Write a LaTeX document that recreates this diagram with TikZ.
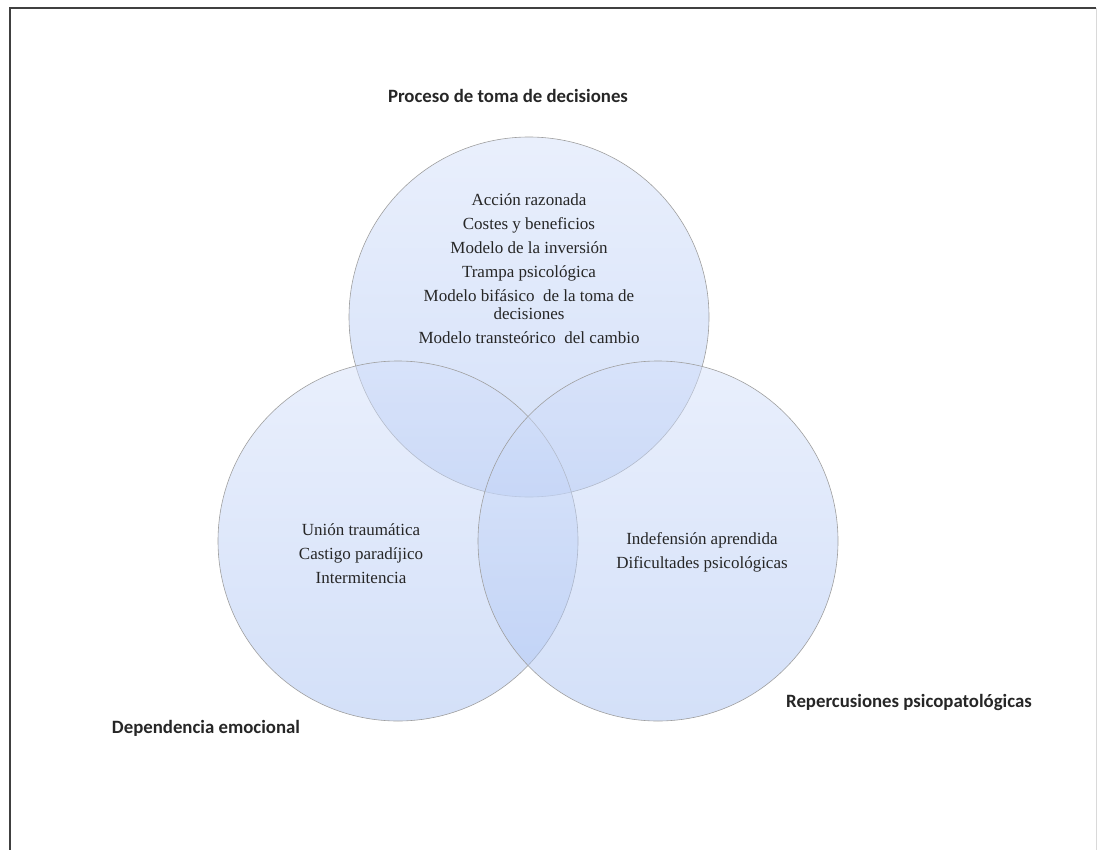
\documentclass[tikz,border=0pt]{standalone}
\usepackage{fontspec}
\setmainfont{Liberation Serif}
\newfontfamily\lblfont{Carlito}
\begin{document}
\begin{tikzpicture}[x=1pt,y=-1pt,
  venn/.style={circle, inner sep=0pt, minimum size=360pt,
    draw=gray!75, line width=0.6pt,
    top color=circtop, bottom color=circbot, fill opacity=0.5},
  setlabel/.style={font=\lblfont\bfseries\fontsize{18.8}{22}\selectfont, text=black!85},
  items/.style={align=center, font=\fontsize{17}{24}\selectfont, text=black!85}]
\definecolor{circtop}{RGB}{212,224,250}
\definecolor{circbot}{RGB}{168,193,242}
\useasboundingbox (0,0) rectangle (1099,850);
% frame
\draw[black!75, line width=1.6pt] (10,850) -- (10,8) -- (1096,8);
\draw[black!15, line width=0.8pt] (1096,8) -- (1096,850);
% the three sets
\node[venn] (top) at (529,317) {};
\node[venn] (left) at (398,541) {};
\node[venn] (right) at (658,541) {};
% set titles
\node[setlabel] (ttop) at (508,96) {Proceso de toma de decisiones};
\node[setlabel] (tleft) at (206,728) {Dependencia emocional};
\node[setlabel] (tright) at (909,702) {Repercusiones psicopatológicas};
% contents
\node[items] (itop) at (529,269) {Acción razonada\\Costes y beneficios\\Modelo de la inversión\\Trampa psicológica\\Modelo bifásico\ \ de la toma de\\[-6pt]decisiones\\Modelo transteórico\ \ del cambio};
\node[items] (ileft) at (361,554) {Unión traumática\\Castigo paradíjico\\Intermitencia};
\node[items] (iright) at (702,552) {Indefensión aprendida\\Dificultades psicológicas};
\end{tikzpicture}
\end{document}
